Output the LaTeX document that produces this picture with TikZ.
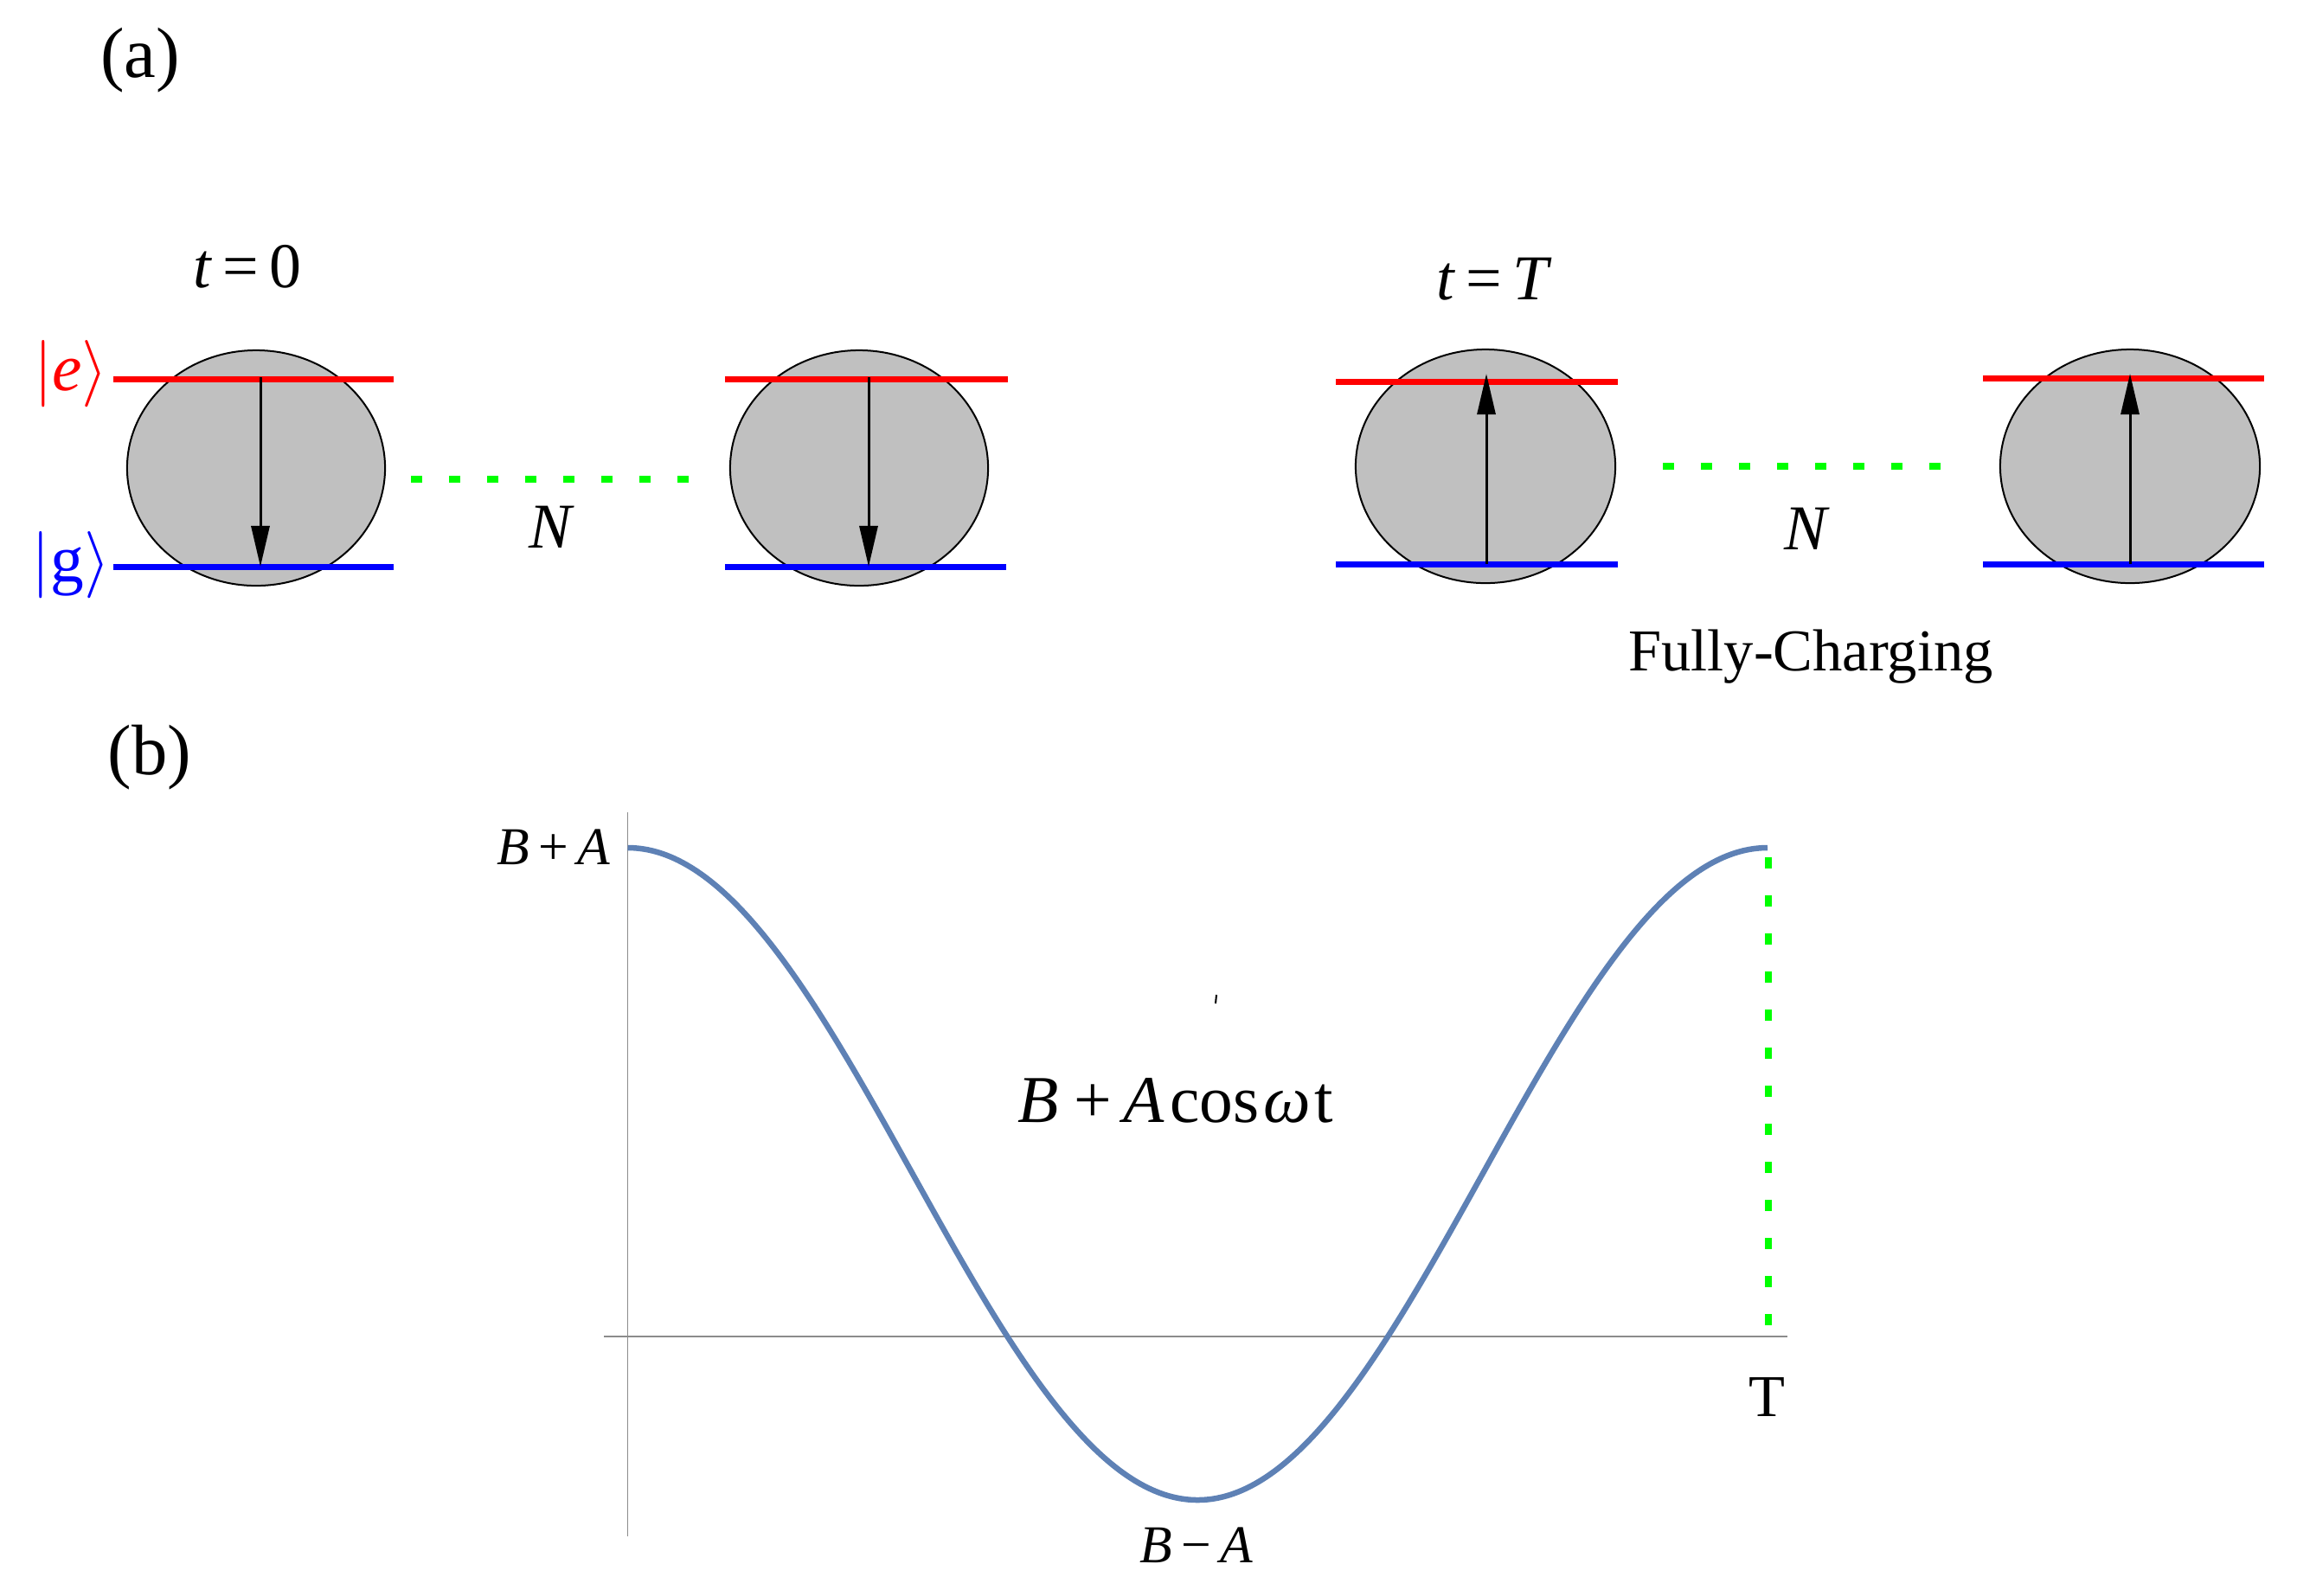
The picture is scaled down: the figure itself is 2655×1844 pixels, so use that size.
\RequirePackage{fix-cm}
\documentclass[tikz,border=0pt]{standalone}
\usepackage{fontspec}
\setmainfont{Liberation Serif}
\usetikzlibrary{shapes.geometric,arrows.meta}
\definecolor{curveblue}{RGB}{94,129,181}
\definecolor{dotgreen}{RGB}{0,255,0}
\definecolor{axisgray}{RGB}{140,140,140}
\definecolor{atomgray}{RGB}{192,192,192}
\begin{document}
\begin{tikzpicture}[x=0.01cm,y=-0.01cm,
  atom/.style={ellipse, draw=black, line width=0.02cm, fill=atomgray,
    minimum width=2.98cm, minimum height=2.72cm, inner sep=0},
  elev/.style={red, line width=0.07cm},
  glev/.style={blue, line width=0.07cm},
  spin/.style={black, line width=0.03cm, -{Triangle[length=0.47cm,width=0.21cm]}},
  chain/.style={dotgreen, line width=0.08cm, dash pattern=on 0.13cm off 0.31cm},
  axisline/.style={axisgray, line width=0.018cm},
  lbl/.style={inner sep=0, font=\fontsize{21}{25}\selectfont},
  plbl/.style={inner sep=0, font=\fontsize{23.5}{28}\selectfont},
  flbl/.style={inner sep=0, font=\fontsize{17.5}{21}\selectfont},
  ket/.style={inner sep=0, font=\fontsize{22}{26}\selectfont},
]
\useasboundingbox (0,0) rectangle (2655,1844);

% panel labels
\node[plbl] (pa) at (162,70) {(a)};
\node[plbl] (pb) at (173,876) {(b)};

% atoms
\node[atom] (A1) at (296,541) {};
\node[atom] (A2) at (993,541) {};
\node[atom, minimum width=3.0cm, minimum height=2.70cm] (A3) at (1717,539) {};
\node[atom, minimum width=3.0cm, minimum height=2.70cm] (A4) at (2462,539) {};

% levels
\coordinate (e1L) at (131,438); \coordinate (e1R) at (455,438);
\coordinate (g1L) at (131,655); \coordinate (g1R) at (455,655);
\coordinate (e2L) at (838,438); \coordinate (e2R) at (1165,438);
\coordinate (g2L) at (838,655); \coordinate (g2R) at (1163,655);
\coordinate (e3L) at (1544,441); \coordinate (e3R) at (1870,441);
\coordinate (g3L) at (1544,652); \coordinate (g3R) at (1870,652);
\coordinate (e4L) at (2292,437); \coordinate (e4R) at (2617,437);
\coordinate (g4L) at (2292,652); \coordinate (g4R) at (2617,652);
\draw[elev] (e1L) -- (e1R);
\draw[glev] (g1L) -- (g1R);
\draw[elev] (e2L) -- (e2R);
\draw[glev] (g2L) -- (g2R);
\draw[elev] (e3L) -- (e3R);
\draw[glev] (g3L) -- (g3R);
\draw[elev] (e4L) -- (e4R);
\draw[glev] (g4L) -- (g4R);

% spins
\coordinate (s1a) at (301,436); \coordinate (s1b) at (301,655);
\coordinate (s2a) at (1004,436); \coordinate (s2b) at (1004,655);
\coordinate (s3a) at (1718,652); \coordinate (s3b) at (1718,432);
\coordinate (s4a) at (2462,652); \coordinate (s4b) at (2462,432);
\draw[spin] (s1a) -- (s1b);
\draw[spin] (s2a) -- (s2b);
\draw[spin] (s3a) -- (s3b);
\draw[spin] (s4a) -- (s4b);

% chains
\coordinate (c1a) at (475,554); \coordinate (c1b) at (796,554);
\coordinate (c2a) at (1922,539); \coordinate (c2b) at (2243,539);
\draw[chain] (c1a) -- (c1b);
\draw[chain] (c2a) -- (c2b);

% labels panel (a)
\node[ket, red] (ket-e) at (82,432) {$|$\textit{e}$\rangle$};
\node[ket, blue] (ket-g) at (82,653) {$|$g$\rangle$};
\node[lbl, anchor=base] (t0) at (286,332) {\textit{t}\,=\,0};
\node[lbl, anchor=base] (tT) at (1727,346) {\textit{t}\,=\,\textit{T}};
\node[lbl, anchor=base] (N1) at (638,633) {\textit{N}};
\node[lbl, anchor=base] (N2) at (2089,635) {\textit{N}};
\node[inner sep=0, anchor=base, font=\fontsize{19.5}{23}\selectfont] (full) at (2093,775) {Fully-Charging};

% panel (b): axes
\coordinate (xa) at (698,1545); \coordinate (xb) at (2066,1545);
\coordinate (ya) at (725.5,939); \coordinate (yb) at (725.5,1776);
\draw[axisline] (xa) -- (xb);
\draw[axisline] (ya) -- (yb);

% vertical dashed marker at T
\coordinate (Ttop) at (2044,991); \coordinate (Tbot) at (2044,1545);
\draw[chain] (Ttop) -- (Tbot);

% curve
\draw[curveblue, line width=0.065cm]
  plot[domain=0:360, samples=181, smooth] ({725.5+3.65972*\x},{1357-377*cos(\x)});

% stray tick
\coordinate (tk1) at (1406,1150); \coordinate (tk2) at (1405,1160);
\draw[black, line width=0.02cm] (tk1) -- (tk2);

% labels panel (b)
\node[flbl, anchor=base] (BpA) at (640,999) {\textit{B}\,+\,\textit{A}};
\node[inner sep=0, anchor=base, font=\fontsize{22}{26}\selectfont] (fun) at (1359,1297)
  {\textit{B}\hspace{0.22em}+\hspace{0.18em}\textit{A}\hspace{0.08em}cos\hspace{0.06em}\textit{ω}\hspace{0.06em}t};
\node[flbl, anchor=base] (BmA) at (1383,1806) {\textit{B}\,−\,\textit{A}};
\node[inner sep=0, anchor=base, font=\fontsize{19.5}{23}\selectfont] (Tl) at (2042,1637) {T};
\end{tikzpicture}
\end{document}
